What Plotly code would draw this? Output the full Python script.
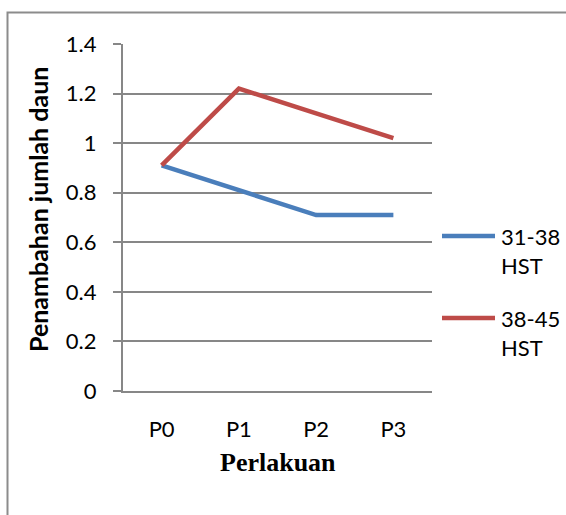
import plotly.graph_objects as go

# Leaf-count increase per treatment for two observation intervals
categories = ["P0", "P1", "P2", "P3"]
series_names = ["31-38<br>HST", "38-45<br>HST"]
hst_31_38 = [0.91, 0.81, 0.71, 0.71]
hst_38_45 = [0.91, 1.22, 1.12, 1.02]
y_tick_values = [0, 0.2, 0.4, 0.6, 0.8, 1.0, 1.2, 1.4]
y_tick_labels = ["0", "0.2", "0.4", "0.6", "0.8", "1", "1.2", "1.4"]

series_values = [hst_31_38, hst_38_45]
colors = ["#4a7ebb", "#be4b48"]
GRID = "#878787"
TICK_FONT = dict(family="Lato, Open Sans, sans-serif", size=22, color="#000000")

# Plot region: 123..432 px horizontally, 44..391 px vertically
W, H = 566, 515
L, R, T, B = 123, 134, 44, 124
PW = W - L - R
PH = H - T - B


def px_x(px):
    return (px - L) / PW


def px_y(py):
    return (H - B - py) / PH


fig = go.Figure()
for name, vals, col in zip(series_names, series_values, colors):
    fig.add_trace(go.Scatter(
        x=categories, y=vals, mode="lines", name=name,
        line=dict(color=col, width=4.5), showlegend=False,
    ))

fig.update_layout(
    width=W, height=H,
    margin=dict(l=L, r=R, t=T, b=B, pad=0),
    paper_bgcolor="white", plot_bgcolor="white",
    showlegend=False,
    xaxis=dict(
        type="category", categoryorder="array", categoryarray=categories,
        range=[-0.5, len(categories) - 0.5],
        showgrid=False, zeroline=False,
        showline=True, linecolor=GRID, linewidth=2, ticks="",
        ticklabelstandoff=18, tickfont=TICK_FONT,
    ),
    yaxis=dict(
        range=[0, 1.4], tickvals=y_tick_values, ticktext=y_tick_labels,
        showgrid=True, gridcolor=GRID, gridwidth=1.6,
        zeroline=False, showline=True, linecolor=GRID, linewidth=2.2,
        ticks="outside", ticklen=8, tickcolor=GRID, tickwidth=1.6,
        ticklabelstandoff=12, tickfont=TICK_FONT,
    ),
)

# outer chart frame
fig.add_shape(type="rect", xref="paper", yref="paper",
              x0=px_x(7.5), x1=px_x(640), y0=px_y(600), y1=px_y(12.5),
              line=dict(color="#8c8c8c", width=2), fillcolor="rgba(0,0,0,0)",
              layer="below")

# axis titles
fig.add_annotation(text="<b>Penambahan jumlah daun</b>", textangle=-90,
                   xref="paper", yref="paper", x=px_x(38), y=px_y(210),
                   xanchor="center", yanchor="middle", showarrow=False,
                   font=dict(family="Lato, Open Sans, sans-serif", size=25, color="#000000"))
fig.add_annotation(text="<b>Perlakuan</b>",
                   xref="paper", yref="paper", x=0.5, y=px_y(462),
                   xanchor="center", yanchor="middle", showarrow=False,
                   font=dict(family="Liberation Serif, Times New Roman, serif", size=26, color="#000000"))

# legend swatches and labels
legend_rows = [236, 318]
for name, col, row in zip(series_names, colors, legend_rows):
    fig.add_shape(type="line", xref="paper", yref="paper",
                  x0=px_x(442), x1=px_x(495), y0=px_y(row), y1=px_y(row),
                  line=dict(color=col, width=4.5))
    fig.add_annotation(text=name, xref="paper", yref="paper",
                       x=px_x(499), y=px_y(row - 15), xanchor="left", yanchor="top",
                       align="left", showarrow=False, font=TICK_FONT)

fig.write_html("out.html")
